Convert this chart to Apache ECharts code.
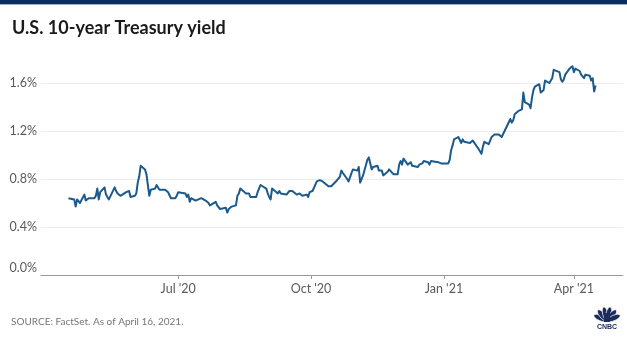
<!DOCTYPE html>
<html><head><meta charset="utf-8">
<script src="https://cdn.jsdelivr.net/npm/echarts@6/dist/echarts.min.js"></script>
<style>html,body{margin:0;padding:0;background:#fff}#c{width:627px;height:339px}</style>
</head><body><div id="c"></div>
<script>
const dates = [
'2020-04-16','2020-04-17','2020-04-20','2020-04-21','2020-04-22','2020-04-23','2020-04-24','2020-04-27','2020-04-28','2020-04-29','2020-04-30',
'2020-05-01','2020-05-04','2020-05-05','2020-05-06','2020-05-07','2020-05-08','2020-05-11','2020-05-12','2020-05-13','2020-05-14','2020-05-15','2020-05-18','2020-05-19','2020-05-20','2020-05-21','2020-05-22','2020-05-26','2020-05-27','2020-05-28','2020-05-29',
'2020-06-01','2020-06-02','2020-06-03','2020-06-04','2020-06-05','2020-06-08','2020-06-09','2020-06-10','2020-06-11','2020-06-12','2020-06-15','2020-06-16','2020-06-17','2020-06-18','2020-06-19','2020-06-22','2020-06-23','2020-06-24','2020-06-25','2020-06-26','2020-06-29','2020-06-30',
'2020-07-01','2020-07-02','2020-07-06','2020-07-07','2020-07-08','2020-07-09','2020-07-10','2020-07-13','2020-07-14','2020-07-15','2020-07-16','2020-07-17','2020-07-20','2020-07-21','2020-07-22','2020-07-23','2020-07-24','2020-07-27','2020-07-28','2020-07-29','2020-07-30','2020-07-31',
'2020-08-03','2020-08-04','2020-08-05','2020-08-06','2020-08-07','2020-08-10','2020-08-11','2020-08-12','2020-08-13','2020-08-14','2020-08-17','2020-08-18','2020-08-19','2020-08-20','2020-08-21','2020-08-24','2020-08-25','2020-08-26','2020-08-27','2020-08-28','2020-08-31',
'2020-09-01','2020-09-02','2020-09-03','2020-09-04','2020-09-08','2020-09-09','2020-09-10','2020-09-11','2020-09-14','2020-09-15','2020-09-16','2020-09-17','2020-09-18','2020-09-21','2020-09-22','2020-09-23','2020-09-24','2020-09-25','2020-09-28','2020-09-29','2020-09-30',
'2020-10-01','2020-10-02','2020-10-05','2020-10-06','2020-10-07','2020-10-08','2020-10-09','2020-10-13','2020-10-14','2020-10-15','2020-10-16','2020-10-19','2020-10-20','2020-10-21','2020-10-22','2020-10-23','2020-10-26','2020-10-27','2020-10-28','2020-10-29','2020-10-30',
'2020-11-02','2020-11-03','2020-11-04','2020-11-05','2020-11-06','2020-11-09','2020-11-10','2020-11-12','2020-11-13','2020-11-16','2020-11-17','2020-11-18','2020-11-19','2020-11-20','2020-11-23','2020-11-24','2020-11-25','2020-11-27','2020-11-30',
'2020-12-01','2020-12-02','2020-12-03','2020-12-04','2020-12-07','2020-12-08','2020-12-09','2020-12-10','2020-12-11','2020-12-14','2020-12-15','2020-12-16','2020-12-17','2020-12-18','2020-12-21','2020-12-22','2020-12-23','2020-12-24','2020-12-28','2020-12-29','2020-12-30','2020-12-31',
'2021-01-04','2021-01-05','2021-01-06','2021-01-07','2021-01-08','2021-01-11','2021-01-12','2021-01-13','2021-01-14','2021-01-15','2021-01-19','2021-01-20','2021-01-21','2021-01-22','2021-01-25','2021-01-26','2021-01-27','2021-01-28','2021-01-29',
'2021-02-01','2021-02-02','2021-02-03','2021-02-04','2021-02-05','2021-02-08','2021-02-09','2021-02-10','2021-02-11','2021-02-12','2021-02-16','2021-02-17','2021-02-18','2021-02-19','2021-02-22','2021-02-23','2021-02-24','2021-02-25','2021-02-26',
'2021-03-01','2021-03-02','2021-03-03','2021-03-04','2021-03-05','2021-03-08','2021-03-09','2021-03-10','2021-03-11','2021-03-12','2021-03-15','2021-03-16','2021-03-17','2021-03-18','2021-03-19','2021-03-22','2021-03-23','2021-03-24','2021-03-25','2021-03-26','2021-03-29','2021-03-30','2021-03-31',
'2021-04-01','2021-04-02','2021-04-05','2021-04-06','2021-04-07','2021-04-08','2021-04-09','2021-04-12','2021-04-13','2021-04-14','2021-04-15','2021-04-16'
];
const yields = [
0.64,0.65,0.63,0.57,0.63,0.62,0.60,0.67,0.62,0.63,0.64,
0.64,0.64,0.66,0.72,0.63,0.69,0.73,0.67,0.66,0.63,0.64,0.73,0.70,0.68,0.67,0.66,0.69,0.69,0.70,0.65,
0.66,0.68,0.77,0.82,0.91,0.88,0.84,0.75,0.66,0.71,0.72,0.75,0.74,0.71,0.70,0.71,0.72,0.69,0.68,0.64,0.64,0.66,
0.69,0.68,0.68,0.65,0.67,0.61,0.64,0.62,0.63,0.63,0.62,0.64,0.62,0.61,0.60,0.58,0.59,0.61,0.58,0.58,0.55,0.55,
0.56,0.52,0.55,0.55,0.57,0.58,0.66,0.68,0.72,0.71,0.68,0.67,0.68,0.65,0.64,0.65,0.69,0.69,0.75,0.74,0.72,
0.68,0.65,0.63,0.72,0.68,0.70,0.68,0.67,0.67,0.68,0.70,0.69,0.70,0.67,0.68,0.68,0.67,0.66,0.67,0.65,0.69,
0.68,0.70,0.78,0.79,0.79,0.78,0.78,0.74,0.73,0.74,0.75,0.79,0.80,0.82,0.87,0.85,0.80,0.78,0.79,0.85,0.88,
0.87,0.90,0.77,0.78,0.83,0.96,0.98,0.88,0.90,0.91,0.87,0.88,0.87,0.83,0.86,0.88,0.88,0.84,0.84,
0.92,0.95,0.92,0.97,0.92,0.92,0.94,0.91,0.90,0.90,0.92,0.92,0.93,0.95,0.94,0.92,0.95,0.94,0.94,0.94,0.93,0.93,
0.93,0.96,1.04,1.08,1.13,1.15,1.15,1.10,1.13,1.11,1.10,1.10,1.12,1.11,1.05,1.05,1.01,1.07,1.11,
1.09,1.12,1.15,1.15,1.17,1.17,1.16,1.15,1.16,1.20,1.30,1.27,1.29,1.34,1.37,1.37,1.38,1.52,1.44,
1.42,1.39,1.48,1.54,1.57,1.59,1.52,1.52,1.54,1.62,1.60,1.62,1.64,1.71,1.72,1.69,1.63,1.61,1.63,1.67,1.72,1.73,1.74,
1.69,1.72,1.70,1.67,1.68,1.64,1.67,1.66,1.62,1.64,1.53,1.58
];
const xTickDates = ['2020-07-01','2020-10-01','2021-01-01','2021-04-01'];
const xTickLabels = ["Jul '20","Oct '20","Jan '21","Apr '21"];
const yTicks = [0, 0.4, 0.8, 1.2, 1.6];
const titleText = 'U.S. 10-year Treasury yield';
const sourceText = 'SOURCE: FactSet. As of April 16, 2021.';

const ts = s => { const [y,m,d] = s.split('-').map(Number); return Date.UTC(y, m-1, d); };
const xTickTs = xTickDates.map(ts);
const seriesData = dates.map((d,i) => [ts(d), yields[i]]);
const FONT = 'Lato, "Open Sans", sans-serif';
const NAVY = '#1a2b5c';
const LABEL = '#5a5a5a';

const feathers = [];
[-66,-40,-13,13,40,66].forEach(a => {
  const r = a*Math.PI/180;
  feathers.push({
    type:'ellipse', x: 607 + Math.sin(r)*7.5, y: 321 - Math.cos(r)*7.5,
    rotation: -r,
    shape:{cx:0, cy:0, rx:2.7, ry:6.8},
    style:{fill:NAVY, stroke:'#fff', lineWidth:0.7}
  });
});

const chart = echarts.init(document.getElementById('c'), null, {renderer:'canvas'});
chart.setOption({
  animation:false,
  backgroundColor:'#fff',
  grid:{left:41, right:4, top:59, bottom:64, containLabel:false},
  xAxis:{
    type:'value',
    min: ts('2020-03-28'), max: ts('2021-05-05'),
    axisLine:{show:true, lineStyle:{color:'#9a9a9a', width:1}},
    axisTick:{show:true, customValues:xTickTs, length:4, lineStyle:{color:'#9a9a9a'}},
    axisLabel:{customValues:xTickTs, margin:7, color:LABEL, fontSize:12.5, fontFamily:FONT,
      formatter: v => { const i = xTickTs.indexOf(v); return i>=0 ? xTickLabels[i] : ''; }},
    splitLine:{show:false}
  },
  yAxis:{
    type:'value', min:0, max:1.8, interval:0.4,
    axisLine:{show:false}, axisTick:{show:false},
    splitLine:{show:true, showMinLine:false, showMaxLine:false, lineStyle:{color:'#ececec', width:1}},
    axisLabel:{margin:4, color:LABEL, fontSize:12.5, fontFamily:FONT, showMaxLabel:false,
      formatter: v => {
        if (!yTicks.some(t => Math.abs(t-v)<1e-6)) return '';
        return v===0 ? '{z|0.0%}' : v.toFixed(1)+'%';
      },
      rich:{z:{color:LABEL, fontSize:12.5, fontFamily:FONT, padding:[0,0,14,0]}}
    }
  },
  series:[{
    type:'line', data:seriesData, showSymbol:false, symbol:'none',
    lineStyle:{color:'#1b5a8c', width:2, join:'round'}, z:3
  }],
  graphic:[
    {type:'rect', left:0, top:0, shape:{width:627, height:4}, style:{fill:'#0c2d5e'}},
    {type:'rect', left:0, top:4, shape:{width:627, height:1}, style:{fill:'#8fb2d8'}},
    {type:'text', x:12, y:28.5, style:{text:titleText, font:'bold 18px '+FONT, fill:'#1a1a1a', verticalAlign:'middle'}},
    {type:'text', x:11, y:321.5, style:{text:sourceText, font:'10px '+FONT, fill:'#777', verticalAlign:'middle'}},
    {type:'group', children: feathers.concat([
      {type:'rect', shape:{x:604, y:313, width:6, height:9}, style:{fill:NAVY}},
      {type:'text', x:607, y:327, style:{text:'CNBC', font:'bold 7px Arial, sans-serif', fill:NAVY, align:'center', verticalAlign:'middle'}}
    ])}
  ]
});
</script></body></html>
